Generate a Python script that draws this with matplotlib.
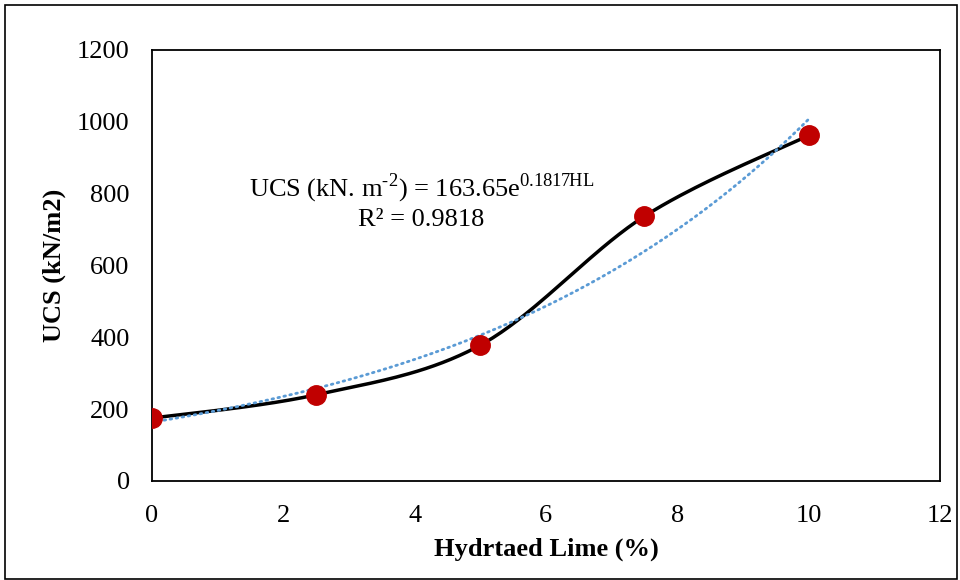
import numpy as np
import matplotlib
matplotlib.use("Agg")
import matplotlib.pyplot as plt
from matplotlib.patches import Rectangle

plt.rcParams['font.family'] = ['Liberation Serif', 'DejaVu Serif']
plt.rcParams['mathtext.fontset'] = 'custom'
plt.rcParams['mathtext.rm'] = 'Liberation Serif'

# data
lime = [0, 2.5, 5, 7.5, 10]
ucs = [175, 240, 378, 737, 962]

# trendline coefficients printed on the chart
fit_a = 163.65
fit_b = 0.1817
r2_text = "R\u00b2 = 0.9818"

xticks = [0, 2, 4, 6, 8, 10, 12]
yticks = [0, 200, 400, 600, 800, 1000, 1200]


def smooth(xs, ys, n=40):
    # Catmull-Rom style smoothing, like Excel's "smoothed line"
    px = [xs[0]] + list(xs) + [xs[-1]]
    py = [ys[0]] + list(ys) + [ys[-1]]
    outx, outy = [], []
    t = np.linspace(0, 1, n)
    for i in range(1, len(px) - 2):
        p0, p1, p2, p3 = [np.array([px[j], py[j]], float) for j in (i - 1, i, i + 1, i + 2)]
        c1 = p1 + (p2 - p0) / 6
        c2 = p2 - (p3 - p1) / 6
        b = ((1 - t) ** 3)[:, None] * p1 + (3 * (1 - t) ** 2 * t)[:, None] * c1 \
            + (3 * (1 - t) * t ** 2)[:, None] * c2 + (t ** 3)[:, None] * p2
        outx.extend(b[:, 0])
        outy.extend(b[:, 1])
    return outx, outy


fig = plt.figure(figsize=(9.6, 5.8), dpi=100)
ax = fig.add_axes([0.1583, 0.1707, 0.8207, 0.7431])

sx, sy = smooth(lime, ucs)
ax.plot(sx, sy, color='black', lw=2.5, zorder=2)

tx = np.linspace(min(lime), max(lime), 200)
ax.plot(tx, fit_a * np.exp(fit_b * tx), color='#5B9BD5', lw=2, ls=(0, (0.6, 1.6)),
        dash_capstyle='round', zorder=3)

ax.plot(lime, ucs, 'o', color='#C00000', ms=14, zorder=4)

ax.set_xlim(0, 12)
ax.set_ylim(0, 1200)
ax.set_xticks(xticks)
ax.set_yticks(yticks)
ax.tick_params(length=0, labelsize=19)
ax.tick_params(axis='x', pad=17)
ax.tick_params(axis='y', pad=16)
for s in ax.spines.values():
    s.set_linewidth(1.3)

ax.set_xlabel('Hydrtaed Lime (%)', fontsize=19, fontweight='bold', labelpad=8)
ax.set_ylabel('UCS (kN/m2)', fontsize=19, fontweight='bold', labelpad=8)

ax.text(4.1, 816, 'UCS (kN. m$^{\\text{-2}}$) = 163.65e$^{\\text{0.1817HL}}$',
        ha='center', va='center', fontsize=19)
ax.text(4.1, 727, r2_text, ha='center', va='center', fontsize=19)

fig.patches.append(Rectangle((0.005, 0.002), 0.992, 0.989, transform=fig.transFigure,
                             fill=False, ec='black', lw=1.2))

fig.savefig('out.png', dpi=100)
